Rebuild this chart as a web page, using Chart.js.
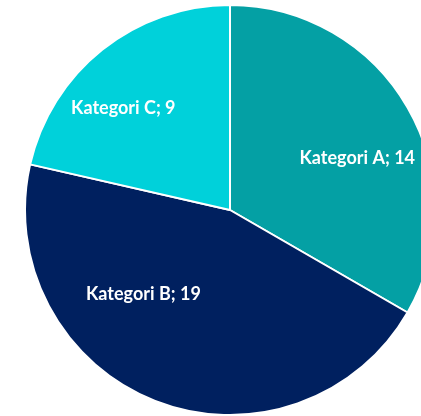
<!DOCTYPE html>
<html>
<head>
<meta charset="utf-8">
<script src="https://cdn.jsdelivr.net/npm/chart.js@4/dist/chart.umd.min.js"></script>
<style>
  html, body { margin: 0; padding: 0; background: #ffffff; overflow: hidden; width: 421px; height: 416px; }
  #c { position: absolute; left: 24px; top: 4px; }
</style>
</head>
<body>
<canvas id="c" width="412" height="412"></canvas>
<script>
const categories = ["Kategori A", "Kategori B", "Kategori C"];
const values = [14, 19, 9];
const colors = ["#04A0A4", "#00205F", "#00D1DA"];

// label placement inside each slice: fraction along the slice's angle, fraction of radius
const labelPlacement = [
  { angleFrac: 0.566, radiusFrac: 0.67 },
  { angleFrac: 0.649, radiusFrac: 0.59 },
  { angleFrac: 0.40, radiusFrac: 0.72 }
];

const sliceLabels = {
  id: 'sliceLabels',
  afterDatasetsDraw(chart) {
    const ctx = chart.ctx;
    const meta = chart.getDatasetMeta(0);
    ctx.save();
    ctx.fillStyle = '#ffffff';
    ctx.font = 'bold 18px Lato, "Liberation Sans", sans-serif';
    ctx.textAlign = 'center';
    ctx.textBaseline = 'middle';
    meta.data.forEach((arc, i) => {
      const p = arc.getProps(['x', 'y', 'startAngle', 'endAngle', 'outerRadius'], true);
      const lp = labelPlacement[i];
      const a = p.startAngle + lp.angleFrac * (p.endAngle - p.startAngle);
      const r = p.outerRadius * lp.radiusFrac;
      const text = categories[i] + '; ' + values[i];
      ctx.fillText(text, p.x + Math.cos(a) * r, p.y + Math.sin(a) * r);
    });
    ctx.restore();
  }
};

new Chart(document.getElementById('c'), {
  type: 'pie',
  data: {
    labels: categories,
    datasets: [{
      data: values,
      backgroundColor: colors,
      borderColor: '#ffffff',
      borderWidth: 2
    }]
  },
  options: {
    responsive: false,
    devicePixelRatio: 1,
    animation: false,
    layout: { padding: 0 },
    plugins: {
      legend: { display: false },
      tooltip: { enabled: false }
    }
  },
  plugins: [sliceLabels]
});
</script>
</body>
</html>
